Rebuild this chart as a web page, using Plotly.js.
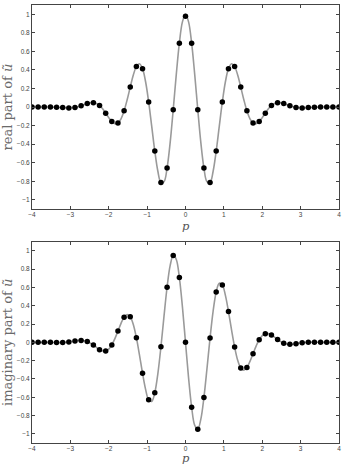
<!DOCTYPE html>
<html>
<head>
<meta charset="utf-8">
<script src="https://cdn.plot.ly/plotly-3.0.1.min.js"></script>
<style>html,body{margin:0;padding:0;background:#fff;}#chart{width:342px;height:466px;}</style>
</head>
<body>
<div id="chart"></div>
<script>
// sample points (dots)
const pDots = [-4, -3.84, -3.68, -3.52, -3.36, -3.2, -3.04, -2.88, -2.72, -2.56, -2.4, -2.24, -2.08, -1.92, -1.76, -1.6, -1.44, -1.28, -1.12, -0.96, -0.8, -0.64, -0.48, -0.32, -0.16, 0,
  0.16, 0.32, 0.48, 0.64, 0.8, 0.96, 1.12, 1.28, 1.44, 1.6, 1.76, 1.92, 2.08, 2.24, 2.4, 2.56, 2.72, 2.88, 3.04, 3.2, 3.36, 3.52, 3.68, 3.84, 4];
const realDots = [0, 0, 0, 0, -0.002, -0.006, -0.009, -0.004, 0.013, 0.037, 0.047, 0.017, -0.066, -0.156, -0.172, -0.040, 0.216, 0.438, 0.414, 0.055, -0.475, -0.813, -0.657, -0.028, 0.688, 0.98,
  0.688, -0.028, -0.657, -0.813, -0.475, 0.055, 0.414, 0.438, 0.216, -0.040, -0.172, -0.156, -0.066, 0.017, 0.047, 0.037, 0.013, -0.004, -0.009, -0.006, -0.002, 0, 0, 0, 0];
const imagDots = [0, 0, 0, 0, -0.002, -0.002, 0.005, 0.015, 0.021, 0.009, -0.030, -0.080, -0.094, -0.028, 0.124, 0.275, 0.281, 0.051, -0.337, -0.628, -0.550, -0.048, 0.602, 0.950, 0.708, 0,
  -0.708, -0.950, -0.602, 0.048, 0.550, 0.628, 0.337, -0.051, -0.281, -0.275, -0.124, 0.028, 0.094, 0.080, 0.030, -0.009, -0.021, -0.015, -0.005, 0.002, 0.002, 0, 0, 0, 0];

// continuous curve
const pCurve = [-4, -3.92, -3.84, -3.76, -3.68, -3.6, -3.52, -3.44, -3.36, -3.28, -3.2, -3.12, -3.04, -2.96, -2.88, -2.8, -2.72, -2.64, -2.56, -2.48,
  -2.4, -2.32, -2.24, -2.16, -2.08, -2, -1.92, -1.84, -1.76, -1.68, -1.6, -1.52, -1.44, -1.36, -1.28, -1.2, -1.12, -1.04, -0.96, -0.88,
  -0.8, -0.72, -0.64, -0.56, -0.48, -0.4, -0.32, -0.24, -0.16, -0.08, 0, 0.08, 0.16, 0.24, 0.32, 0.4, 0.48, 0.56, 0.64, 0.72,
  0.8, 0.88, 0.96, 1.04, 1.12, 1.2, 1.28, 1.36, 1.44, 1.52, 1.6, 1.68, 1.76, 1.84, 1.92, 2, 2.08, 2.16, 2.24, 2.32,
  2.4, 2.48, 2.56, 2.64, 2.72, 2.8, 2.88, 2.96, 3.04, 3.12, 3.2, 3.28, 3.36, 3.44, 3.52, 3.6, 3.68, 3.76, 3.84, 3.92, 4];
const realCurve = [0, 0, 0, 0, 0, 0, 0, -0.001, -0.002, -0.004,
  -0.006, -0.008, -0.009, -0.008, -0.004, 0.003, 0.013, 0.025, 0.037, 0.046,
  0.047, 0.039, 0.017, -0.019, -0.066, -0.114, -0.156, -0.179, -0.172, -0.127,
  -0.040, 0.079, 0.216, 0.345, 0.438, 0.467, 0.414, 0.273, 0.055, -0.209,
  -0.475, -0.692, -0.813, -0.805, -0.657, -0.384, -0.028, 0.352, 0.688, 0.918,
  1,
  0.918, 0.688, 0.352, -0.028, -0.384, -0.657, -0.805, -0.813, -0.692, -0.475,
  -0.209, 0.055, 0.273, 0.414, 0.467, 0.438, 0.345, 0.216, 0.079, -0.040,
  -0.127, -0.172, -0.179, -0.156, -0.114, -0.066, -0.019, 0.017, 0.039, 0.047,
  0.046, 0.037, 0.025, 0.013, 0.003, -0.004, -0.008, -0.009, -0.008, -0.006,
  -0.004, -0.002, -0.001, 0, 0, 0, 0, 0, 0, 0];
const imagCurve = [0, 0, 0, 0, 0, 0, 0, -0.001, -0.002, -0.003,
  -0.002, 0.001, 0.005, 0.010, 0.015, 0.020, 0.021, 0.018, 0.009, -0.008,
  -0.030, -0.056, -0.080, -0.095, -0.094, -0.074, -0.028, 0.041, 0.124, 0.208,
  0.275, 0.305, 0.281, 0.196, 0.051, -0.136, -0.337, -0.514, -0.628, -0.646,
  -0.550, -0.341, -0.048, 0.286, 0.602, 0.839, 0.950, 0.906, 0.708, 0.388,
  0,
  -0.388, -0.708, -0.906, -0.950, -0.839, -0.602, -0.286, 0.048, 0.341, 0.550,
  0.646, 0.628, 0.514, 0.337, 0.136, -0.051, -0.196, -0.281, -0.305, -0.275,
  -0.208, -0.124, -0.041, 0.028, 0.074, 0.094, 0.095, 0.080, 0.056, 0.030,
  0.008, -0.009, -0.018, -0.021, -0.020, -0.015, -0.010, -0.005, -0.001, 0.002,
  0.003, 0.002, 0.001, 0, 0, 0, 0, 0, 0, 0];

const xTicks = [-4, -3, -2, -1, 0, 1, 2, 3, 4];
const xLabels = ['\u22124', '\u22123', '\u22122', '\u22121', '0', '1', '2', '3', '4'];
const yTicks = [-1, -0.8, -0.6, -0.4, -0.2, 0, 0.2, 0.4, 0.6, 0.8, 1];
const yLabels = ['\u22121', '\u22120.8', '\u22120.6', '\u22120.4', '\u22120.2', '0', '0.2', '0.4', '0.6', '0.8', '1'];

const lineStyle = {color: '#9a9a9a', width: 1.6, shape: 'spline', smoothing: 1};
const markerStyle = {color: '#000', size: 5.5};

const traces = [
  {x: pCurve, y: realCurve, mode: 'lines', line: lineStyle, xaxis: 'x', yaxis: 'y', hoverinfo: 'skip'},
  {x: pDots, y: realDots, mode: 'markers', marker: markerStyle, xaxis: 'x', yaxis: 'y'},
  {x: pCurve, y: imagCurve, mode: 'lines', line: lineStyle, xaxis: 'x2', yaxis: 'y2', hoverinfo: 'skip'},
  {x: pDots, y: imagDots, mode: 'markers', marker: markerStyle, xaxis: 'x2', yaxis: 'y2'}
];

const tickFont = {family: 'Liberation Sans, Arial, sans-serif', size: 6.5, color: '#444'};
const titleFont = {family: 'DejaVu Serif, Liberation Serif, serif', size: 13, color: '#6a6a6a'};
const pFont = {family: 'DejaVu Serif, Liberation Serif, serif', size: 11.5, color: '#555'};

function xAx(anchor) {
  return {
    anchor: anchor, range: [-4, 4], tickvals: xTicks, ticktext: xLabels,
    ticks: 'inside', ticklen: 3, tickcolor: '#444', tickwidth: 1, ticklabelstandoff: -1,
    showline: true, linecolor: '#444', linewidth: 1, mirror: 'allticks',
    showgrid: false, zeroline: false, tickfont: tickFont
  };
}
function yAx(anchor, dom, label) {
  return {
    anchor: anchor, domain: dom, range: [-1.1, 1.1], tickvals: yTicks, ticktext: yLabels,
    ticks: 'inside', ticklen: 3, tickcolor: '#444', tickwidth: 1,
    showline: true, linecolor: '#444', linewidth: 1, mirror: 'allticks',
    showgrid: false, zeroline: false, tickfont: tickFont,
    title: {text: label, font: titleFont, standoff: 4}
  };
}

const layout = {
  width: 342, height: 466,
  margin: {l: 32, r: 3, t: 5, b: 23},
  paper_bgcolor: '#fff', plot_bgcolor: '#fff',
  showlegend: false,
  xaxis: xAx('y'),
  yaxis: yAx('x', [0.534, 1], 'real part of <i>ũ</i>'),
  xaxis2: xAx('y2'),
  yaxis2: yAx('x2', [0, 0.4596], 'imaginary part of <i>ũ</i>'),
  annotations: [
    {text: '<i>p</i>', xref: 'paper', yref: 'paper', x: 0.5, y: 0.4955, xanchor: 'center', yanchor: 'middle', showarrow: false, font: pFont, borderpad: 0},
    {text: '<i>p</i>', xref: 'paper', yref: 'paper', x: 0.5, y: -0.0525, xanchor: 'center', yanchor: 'bottom', showarrow: false, font: pFont, borderpad: 0}
  ]
};

Plotly.newPlot('chart', traces, layout, {displayModeBar: false, staticPlot: true});
</script>
</body>
</html>
